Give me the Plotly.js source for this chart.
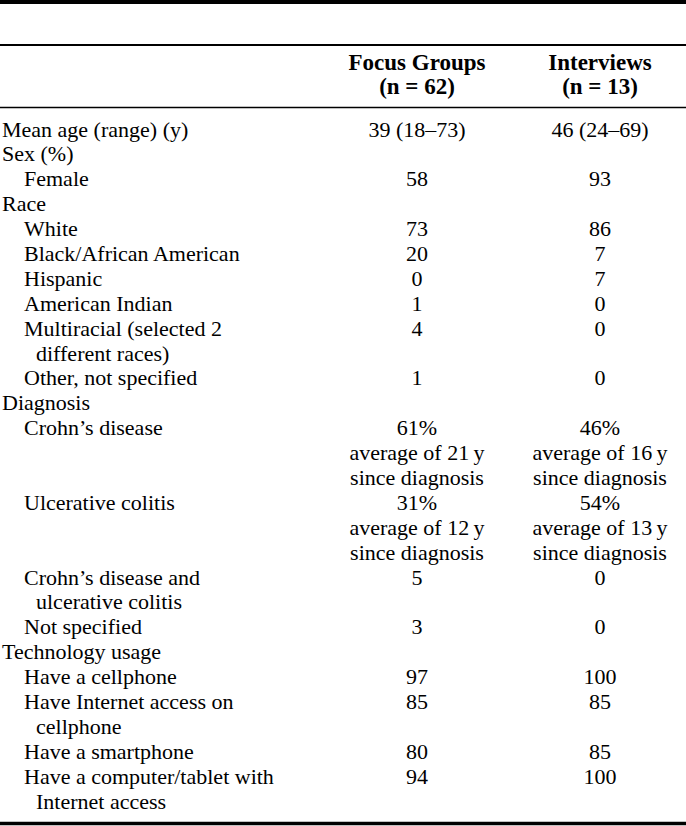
<!DOCTYPE html>
<html>
<head>
<meta charset="utf-8">
<script src="https://cdn.plot.ly/plotly-3.0.1.min.js"></script>
<style>html,body{margin:0;padding:0;background:#fff;}#chart{width:686px;height:826px;}</style>
</head>
<body>
<div id="chart"></div>
<script>
// ---- data ----
const columnHeaders = ["Focus Groups|(n = 62)", "Interviews|(n = 13)"];
const rowLabels = [
  "Mean age (range) (y)",
  "Sex (%)",
  "Female",
  "Race",
  "White",
  "Black/African American",
  "Hispanic",
  "American Indian",
  "Multiracial (selected 2|different races)",
  "Other, not specified",
  "Diagnosis",
  "Crohn\u2019s disease",
  "Ulcerative colitis",
  "Crohn\u2019s disease and|ulcerative colitis",
  "Not specified",
  "Technology usage",
  "Have a cellphone",
  "Have Internet access on|cellphone",
  "Have a smartphone",
  "Have a computer/tablet with|Internet access"
];
const rowLevels = [0,0,1,0,1,1,1,1,1,1,0,1,1,1,1,0,1,1,1,1];
const focusGroups = [
  "39 (18\u201373)", "", "58", "", "73", "20", "0", "1", "4", "1", "",
  "61%|average of 21\u2009y|since diagnosis",
  "31%|average of 12\u2009y|since diagnosis",
  "5", "3", "", "97", "85", "80", "94"
];
const interviews = [
  "46 (24\u201369)", "", "93", "", "86", "7", "7", "0", "0", "0", "",
  "46%|average of 16\u2009y|since diagnosis",
  "54%|average of 13\u2009y|since diagnosis",
  "0", "0", "", "100", "85", "85", "100"
];

// ---- layout constants ----
const W = 686, H = 826;
const firstLine = 131, pitch = 24.89;
const FONT = "Liberation Serif, Times New Roman, serif";
const FS = 22, FSH = 23;
const xLevel = [2, 24], xCont = 36;
const xCols = [417, 600];
const headerLines = [64, 88];

const toIdx = px => (px - firstLine) / pitch;

// build line slots
const lx = [], ly = [], lt = [];
const cx = [[], []], cy = [[], []], ct = [[], []];
let slot = 0;
rowLabels.forEach((lab, i) => {
  const parts = lab.split("|");
  const vals = [focusGroups[i].split("|"), interviews[i].split("|")];
  parts.forEach((p, k) => {
    lx.push(k === 0 ? xLevel[rowLevels[i]] : xCont);
    ly.push(slot + k);
    lt.push(p);
  });
  vals.forEach((v, c) => {
    v.forEach((p, k) => {
      if (p === "") return;
      cx[c].push(xCols[c]); cy[c].push(slot + k); ct[c].push(p);
    });
  });
  slot += Math.max(parts.length, vals[0].length, vals[1].length);
});

const hx = [], hy = [], ht = [];
columnHeaders.forEach((h, c) => {
  h.split("|").forEach((p, k) => {
    hx.push(xCols[c]); hy.push(toIdx(headerLines[k])); ht.push("<b>" + p + "</b>");
  });
});

const font = {family: FONT, size: FS, color: "#000"};
const hfont = {family: FONT, size: FSH, color: "#000"};
const traces = [
  {type: "scatter", mode: "text", x: lx, y: ly, text: lt, textposition: "middle right", textfont: font, hoverinfo: "skip", cliponaxis: false},
  {type: "scatter", mode: "text", x: cx[0], y: cy[0], text: ct[0], textposition: "middle center", textfont: font, hoverinfo: "skip", cliponaxis: false},
  {type: "scatter", mode: "text", x: cx[1], y: cy[1], text: ct[1], textposition: "middle center", textfont: font, hoverinfo: "skip", cliponaxis: false},
  {type: "scatter", mode: "text", x: hx, y: hy, text: ht, textposition: "middle center", textfont: hfont, hoverinfo: "skip", cliponaxis: false}
];

const rule = (px, w) => ({type: "line", xref: "paper", yref: "paper", x0: 0, x1: 1, y0: 1 - px / H, y1: 1 - px / H, line: {color: "#000", width: w}});

const layout = {
  width: W, height: H,
  margin: {l: 0, r: 0, t: 0, b: 0, pad: 0},
  paper_bgcolor: "#fff", plot_bgcolor: "#fff",
  showlegend: false,
  xaxis: {range: [0, W], visible: false, fixedrange: true},
  yaxis: {range: [toIdx(H), toIdx(0)], visible: false, fixedrange: true},
  shapes: [rule(2, 4), rule(45, 2), rule(107.5, 1.5), rule(823.5, 3.5)]
};

Plotly.newPlot("chart", traces, layout, {displayModeBar: false, staticPlot: true});
</script>
</body>
</html>
